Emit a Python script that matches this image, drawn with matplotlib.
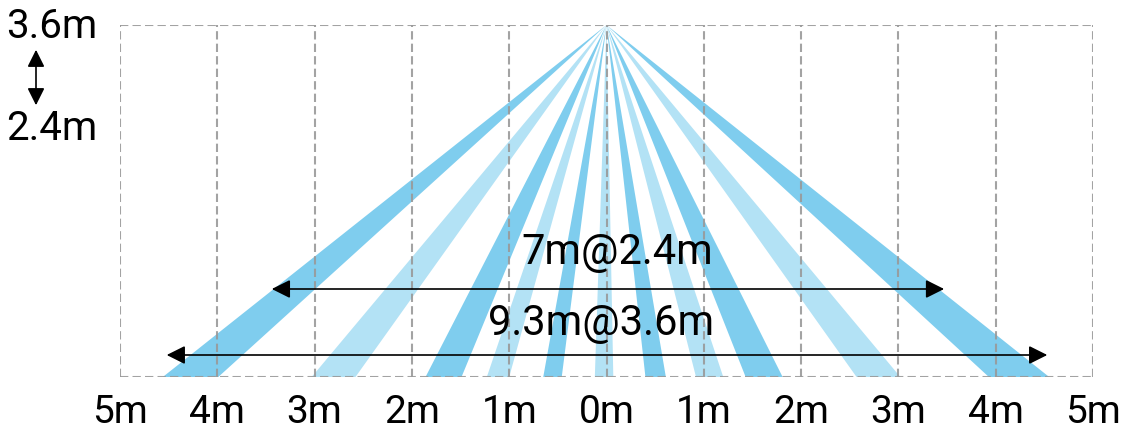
import matplotlib
matplotlib.use('Agg')
import matplotlib.pyplot as plt

plt.rcParams['font.family'] = ['Roboto', 'DejaVu Sans']

# ===== Data ===== #

# grid positions along the floor (m) and their labels
grid_x = [-5, -4, -3, -2, -1, 0, 1, 2, 3, 4, 5]
grid_labels = ['5m', '4m', '3m', '2m', '1m', '0m', '1m', '2m', '3m', '4m', '5m']

# mounting height of the sensor (apex of the beams)
apex_x = 0.0
apex_y = 3.6

# where each detection beam hits the floor (m)
beam_left = [-4.56, -3.03, -1.86, -1.23, -0.65, -0.12, 0.40, 0.92, 1.43, 2.57, 3.93]
beam_right = [-3.99, -2.58, -1.49, -1.00, -0.46, 0.07, 0.61, 1.20, 1.81, 3.02, 4.55]
beam_shade = ['dark', 'light', 'dark', 'light', 'dark', 'light',
              'dark', 'light', 'dark', 'light', 'dark']

# coverage spans
span_labels = ['7m@2.4m', '9.3m@3.6m']
span_from = [-3.44, -4.52]
span_to = [3.47, 4.53]
span_y = [0.90, 0.225]
span_text_x = [0.11, -0.06]
span_text_y = [1.27, 0.55]

height_labels = ['3.6m', '2.4m']

colors = {'dark': '#7fcdee', 'light': '#b3e2f5'}

# ===== Plot ===== #

fig = plt.figure(figsize=(11.31, 4.33), dpi=100)
ax = fig.add_axes([120 / 1131, 56 / 433, 973 / 1131, 352 / 433])

for x0, x1, shade in zip(beam_left, beam_right, beam_shade):
    ax.fill([apex_x, x0, x1], [apex_y, 0, 0], color=colors[shade],
            linewidth=0, zorder=1)

# dashed grid
for gx in grid_x:
    ax.axvline(gx, color='#999999', linestyle=(0, (4, 2)), linewidth=1.5,
               zorder=2, alpha=0.9)
for gy in [0, apex_y]:
    ax.axhline(gy, color='#999999', linestyle=(0, (4, 2)), linewidth=1.5,
               zorder=2, alpha=0.9)

# coverage arrows and labels
for lab, xa, xb, ya, tx, ty in zip(span_labels, span_from, span_to, span_y,
                                   span_text_x, span_text_y):
    ax.annotate('', xy=(xb, ya), xytext=(xa, ya),
                arrowprops=dict(arrowstyle='<|-|>', color='black', lw=1.2,
                                mutation_scale=28, shrinkA=0, shrinkB=0),
                zorder=3)
    ax.text(tx, ty, lab, fontsize=30, ha='center', va='center', zorder=4)

ax.set_xlim(-5, 5)
ax.set_ylim(0, apex_y)
ax.set_xticks(grid_x)
ax.set_xticklabels(grid_labels, fontsize=28)
ax.tick_params(axis='x', length=0, pad=12)
ax.set_yticks([])
for s in ax.spines.values():
    s.set_visible(False)

# mounting height range on the left
fig.text(52 / 1131, 1 - 27 / 433, height_labels[0], fontsize=29,
         ha='center', va='center')
fig.text(52 / 1131, 1 - 128 / 433, height_labels[1], fontsize=29,
         ha='center', va='center')
fig.patches.append(matplotlib.patches.FancyArrowPatch(
    (36 / 1131, 1 - 47 / 433), (36 / 1131, 1 - 108 / 433),
    transform=fig.transFigure, arrowstyle='<|-|>', mutation_scale=26,
    color='black', lw=1.2))

fig.savefig('out.png', dpi=100)
